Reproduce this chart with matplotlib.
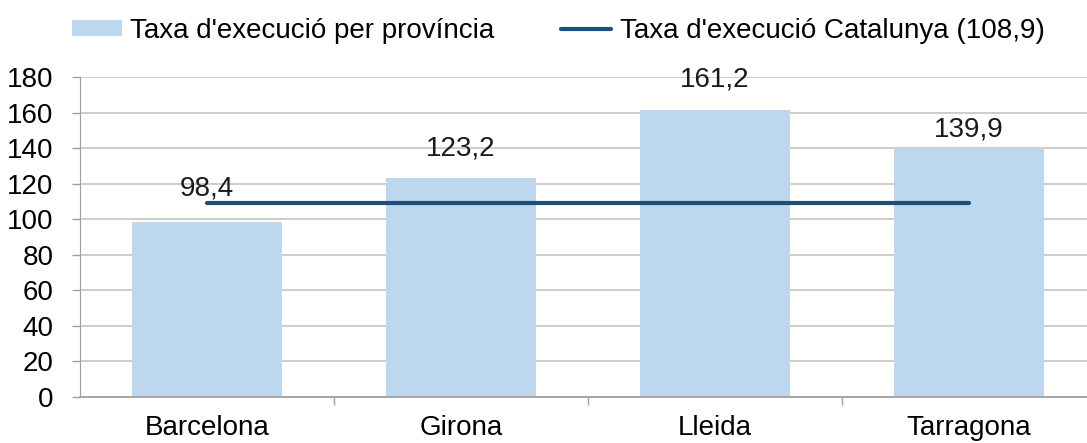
import matplotlib
matplotlib.use("Agg")
import matplotlib.pyplot as plt
from matplotlib.patches import Patch
from matplotlib.lines import Line2D

categories = ["Barcelona", "Girona", "Lleida", "Tarragona"]
values = [98.4, 123.2, 161.2, 139.9]
value_labels = ["98,4", "123,2", "161,2", "139,9"]
catalunya = 108.9
series_names = ["Taxa d'execució per província", "Taxa d'execució Catalunya (108,9)"]
yticks = [0, 20, 40, 60, 80, 100, 120, 140, 160, 180]

# label offsets above bar tops (pixels)
label_pad_px = [21, 16, 18, 6]

plt.rcParams['font.family'] = ['Liberation Sans', 'DejaVu Sans']
W, H, DPI = 1087, 443, 100
FS = 20
fig = plt.figure(figsize=(W / DPI, H / DPI), dpi=DPI)
ax = fig.add_axes([80 / W, (H - 397) / H, 1016 / W, 320 / H])

bar_color = "#BDD7EE"
line_color = "#1F4E79"
grid_color = "#C9C9C9"

x = list(range(len(categories)))
ax.bar(x, values, width=0.59, color=bar_color, zorder=2)
ax.plot([x[0], x[-1]], [catalunya, catalunya], color=line_color, lw=3.0,
        solid_capstyle="round", zorder=4)

ax.set_xlim(-0.5, len(categories) - 0.5)
ax.set_ylim(0, 180)
ax.set_yticks(yticks)
ax.set_yticklabels([str(t) for t in yticks], fontsize=FS)
ax.yaxis.grid(True, color=grid_color, lw=1.3, zorder=0)
ax.set_axisbelow(True)

# x ticks: labels at centres, tick marks at boundaries
ax.set_xticks(x)
ax.set_xticklabels(categories, fontsize=FS)
ax.tick_params(axis="x", length=0, pad=13)
ax.set_xticks([i + 0.5 for i in x[:-1]], minor=True)
ax.tick_params(axis="x", which="minor", length=6, color="#A0A0A0", width=1.0)
ax.tick_params(axis="y", length=6, color="#A0A0A0", width=1.0, pad=13)

for s in ["top", "right"]:
    ax.spines[s].set_visible(False)
ax.spines["left"].set_color("#A0A0A0")
ax.spines["bottom"].set_color("#A0A0A0")
ax.spines["bottom"].set_linewidth(1.3)

px_to_pt = 72 / DPI
for xi, v, lab, pad in zip(x, values, value_labels, label_pad_px):
    ax.annotate(lab, (xi, v), xytext=(0, pad * px_to_pt), textcoords="offset points",
                ha="center", va="bottom", fontsize=FS, color="#1a1a1a", zorder=5)

handles = [Patch(facecolor=bar_color, edgecolor="none"),
           Line2D([0], [0], color=line_color, lw=3.0, solid_capstyle="round")]
fig.legend(handles, series_names, loc="center left", bbox_to_anchor=(72 / W, 1 - 31 / H),
           ncol=2, frameon=False, fontsize=FS, handlelength=1.8, handleheight=0.5,
           handletextpad=0.3, columnspacing=2.4, borderaxespad=0, borderpad=0)

fig.savefig("out.png", dpi=DPI)
